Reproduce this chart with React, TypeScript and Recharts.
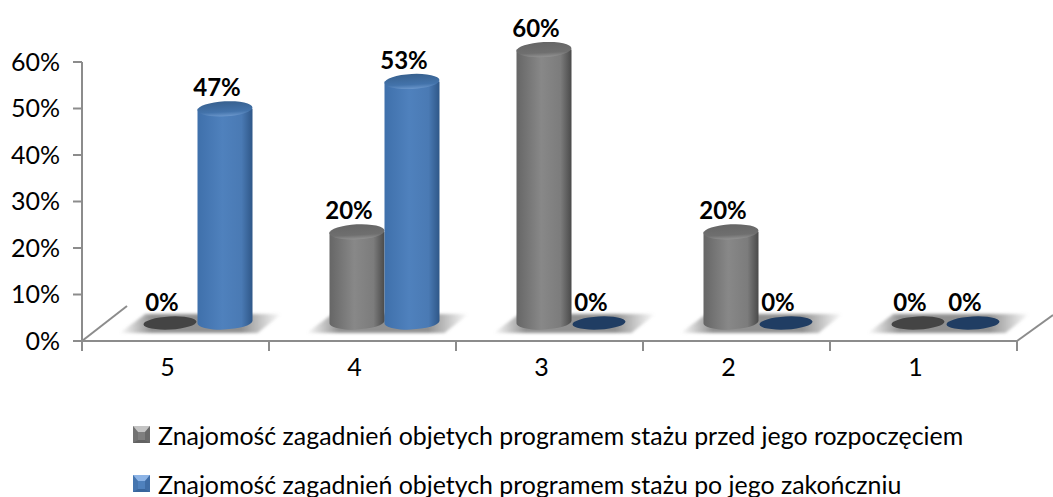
import { Bar, BarChart, LabelList, Legend, XAxis, YAxis } from "recharts";

const categories = ["5", "4", "3", "2", "1"];
const before = [0, 0.2, 0.6, 0.2, 0];
const after = [0.47, 0.53, 0, 0, 0];
const yTicks = [0, 0.1, 0.2, 0.3, 0.4, 0.5, 0.6];
const seriesNames = [
  "Znajomość zagadnień objetych programem stażu przed jego rozpoczęciem",
  "Znajomość zagadnień objetych programem stażu po jego zakończniu",
];

const data = categories.map((name, i) => ({ name, before: before[i], after: after[i] }));

const FONT = "Lato, Carlito, sans-serif";
const AXIS_COLOR = "#8c8c8c";
const BAND = (1053 - 82 - 36) / categories.length;

// fake 3d: the floor sits above the axis and the columns are shifted right of the band
const DX = 21.5;
const DY = -18;
const DEPTH_SCALE = 0.98;

const project = (x: number, y: number, width: number, height: number) => ({
  left: x + DX,
  right: x + width + DX,
  mid: x + width / 2 + DX,
  floor: y + height + DY,
  top: y + height + DY - height * DEPTH_SCALE,
});

function Cylinder(props: any) {
  const { x, y, width, height, kind } = props;
  const p = project(x, y, width, height);
  const rx = width / 2;
  const isBlue = kind === "blue";
  if (!height) {
    return (
      <g>
        {kind === "grey" && <Shadow edge={p.right} />}
        <ellipse
          cx={p.mid}
          cy={p.floor}
          rx={rx - 1}
          ry={6.5}
          fill={isBlue ? "#203d63" : "#444444"}
          transform={`rotate(-3 ${p.mid} ${p.floor})`}
        />
      </g>
    );
  }
  return (
    <g>
      {kind === "grey" && <Shadow edge={p.right} />}
      <path
        d={`M${p.left} ${p.top} L${p.left} ${p.floor} A${rx} 7.5 -3 0 0 ${p.right} ${p.floor - 2} L${p.right} ${p.top} Z`}
        fill={isBlue ? "url(#blueBody)" : "url(#greyBody)"}
      />
      <ellipse
        cx={p.mid}
        cy={p.top}
        rx={rx}
        ry={7.5}
        fill={isBlue ? "url(#blueTop)" : "url(#greyTop)"}
        transform={`rotate(-3 ${p.mid} ${p.top})`}
      />
    </g>
  );
}

function Shadow({ edge }: { edge: number }) {
  return (
    <path
      d={`M${edge - 78} 333 L${edge - 52} 314 L${edge + 84} 314 L${edge + 60} 333 Z`}
      fill="url(#floorShadow)"
      filter="url(#soft)"
    />
  );
}

function ValueLabel(props: any) {
  const { x, y, width, height, value } = props;
  const p = project(x, y, width, height);
  return (
    <text
      x={p.mid - 8}
      y={p.top - 22}
      textAnchor="middle"
      dominantBaseline="central"
      fontFamily={FONT}
      fontSize={24}
      fontWeight={700}
      fill="#000"
    >
      {`${Math.round(value * 100)}%`}
    </text>
  );
}

// ticks sit on the band edges, the label stays a bit left of the band centre
function CategoryTick(props: any) {
  const { x, y, payload, index } = props;
  const isLast = index === categories.length - 1;
  return (
    <g>
      <line x1={x - BAND / 2} x2={x - BAND / 2} y1={y - 8} y2={y + 2} stroke={AXIS_COLOR} strokeWidth={2} />
      {isLast && <line x1={x + BAND / 2} x2={x + BAND / 2} y1={y - 8} y2={y + 2} stroke={AXIS_COLOR} strokeWidth={2} />}
      <text
        x={x - 8}
        y={y + 17}
        textAnchor="middle"
        dominantBaseline="central"
        fontFamily={FONT}
        fontSize={25}
        fill="#000"
      >
        {payload.value}
      </text>
    </g>
  );
}

function LegendMark({ blue }: { blue: boolean }) {
  const body = blue ? "#4f81bd" : "#7f7f7f";
  const light = blue ? "#8db4e6" : "#c4c4c4";
  const dark = blue ? "#2f5a8f" : "#555555";
  return (
    <svg width={17} height={17} style={{ marginRight: 8, flex: "none" }}>
      <rect width={17} height={17} fill={body} />
      <path d="M0 0 L17 0 L12 6 L5 6 Z" fill={light} />
      <path d="M0 0 L5 6 L5 14 L0 17 Z" fill={dark} opacity={0.3} />
      <path d="M17 0 L12 6 L12 14 L17 17 Z" fill={dark} opacity={0.5} />
      <path d="M0 17 L5 14 L12 14 L17 17 Z" fill={dark} opacity={0.7} />
    </svg>
  );
}

function LegendRows() {
  return (
    <div style={{ fontFamily: FONT, fontSize: 24.9, color: "#000" }}>
      {seriesNames.map((name, i) => (
        <div key={name} style={{ display: "flex", alignItems: "center", height: 49, whiteSpace: "nowrap" }}>
          <LegendMark blue={i === 1} />
          {name}
        </div>
      ))}
    </div>
  );
}

export default function App() {
  return (
    <div style={{ position: "absolute", left: 0, top: 0, width: 1053, height: 497, background: "#fff" }}>
      <BarChart
        width={1053}
        height={497}
        data={data}
        margin={{ top: 62, right: 36, bottom: 0, left: 0 }}
        barSize={55}
        barGap={0}
      >
        <defs>
          <linearGradient id="greyBody" x1="0" x2="1" y1="0" y2="0">
            <stop offset="0" stopColor="#666666" />
            <stop offset="0.45" stopColor="#888888" />
            <stop offset="0.8" stopColor="#7c7c7c" />
            <stop offset="1" stopColor="#4a4a4a" />
          </linearGradient>
          <linearGradient id="blueBody" x1="0" x2="1" y1="0" y2="0">
            <stop offset="0" stopColor="#3f70ab" />
            <stop offset="0.45" stopColor="#4f81bd" />
            <stop offset="0.8" stopColor="#4a7ab4" />
            <stop offset="1" stopColor="#2f5788" />
          </linearGradient>
          <linearGradient id="greyTop" x1="0" x2="0" y1="0" y2="1">
            <stop offset="0" stopColor="#666666" />
            <stop offset="0.7" stopColor="#6f6f6f" />
            <stop offset="1" stopColor="#929292" />
          </linearGradient>
          <linearGradient id="blueTop" x1="0" x2="0" y1="0" y2="1">
            <stop offset="0" stopColor="#38618f" />
            <stop offset="0.7" stopColor="#4373ab" />
            <stop offset="1" stopColor="#6b97cc" />
          </linearGradient>
          <linearGradient id="floorShadow" x1="0" x2="1" y1="0" y2="0">
            <stop offset="0" stopColor="#8a8a8a" stopOpacity="0" />
            <stop offset="0.2" stopColor="#8a8a8a" stopOpacity="0.95" />
            <stop offset="0.75" stopColor="#8a8a8a" stopOpacity="0.95" />
            <stop offset="1" stopColor="#8a8a8a" stopOpacity="0" />
          </linearGradient>
          <filter id="soft" x="-10%" y="-30%" width="120%" height="160%">
            <feGaussianBlur stdDeviation="1.5" />
          </filter>
        </defs>
        <XAxis
          dataKey="name"
          height={156}
          stroke={AXIS_COLOR}
          strokeWidth={2}
          tickLine={false}
          tick={<CategoryTick />}
          interval={0}
        />
        <YAxis
          width={82}
          domain={[0, 0.6]}
          ticks={yTicks}
          interval={0}
          tickFormatter={(v: number) => `${Math.round(v * 100)}%`}
          stroke={AXIS_COLOR}
          strokeWidth={2}
          tickSize={9}
          tickMargin={13}
          tick={{ fontFamily: FONT, fontSize: 25, fill: "#000" }}
        />
        <line x1={82} y1={341} x2={127} y2={306} stroke={AXIS_COLOR} strokeWidth={2} />
        <line x1={1017} y1={341} x2={1053} y2={315} stroke={AXIS_COLOR} strokeWidth={2} />
        <Legend
          layout="vertical"
          align="center"
          verticalAlign="middle"
          content={<LegendRows />}
          wrapperStyle={{ left: 133, top: 410, width: 900, bottom: "auto" }}
        />
        <Bar dataKey="before" name={seriesNames[0]} isAnimationActive={false} shape={<Cylinder kind="grey" />}>
          <LabelList dataKey="before" content={<ValueLabel />} />
        </Bar>
        <Bar dataKey="after" name={seriesNames[1]} isAnimationActive={false} shape={<Cylinder kind="blue" />}>
          <LabelList dataKey="after" content={<ValueLabel />} />
        </Bar>
      </BarChart>
    </div>
  );
}
